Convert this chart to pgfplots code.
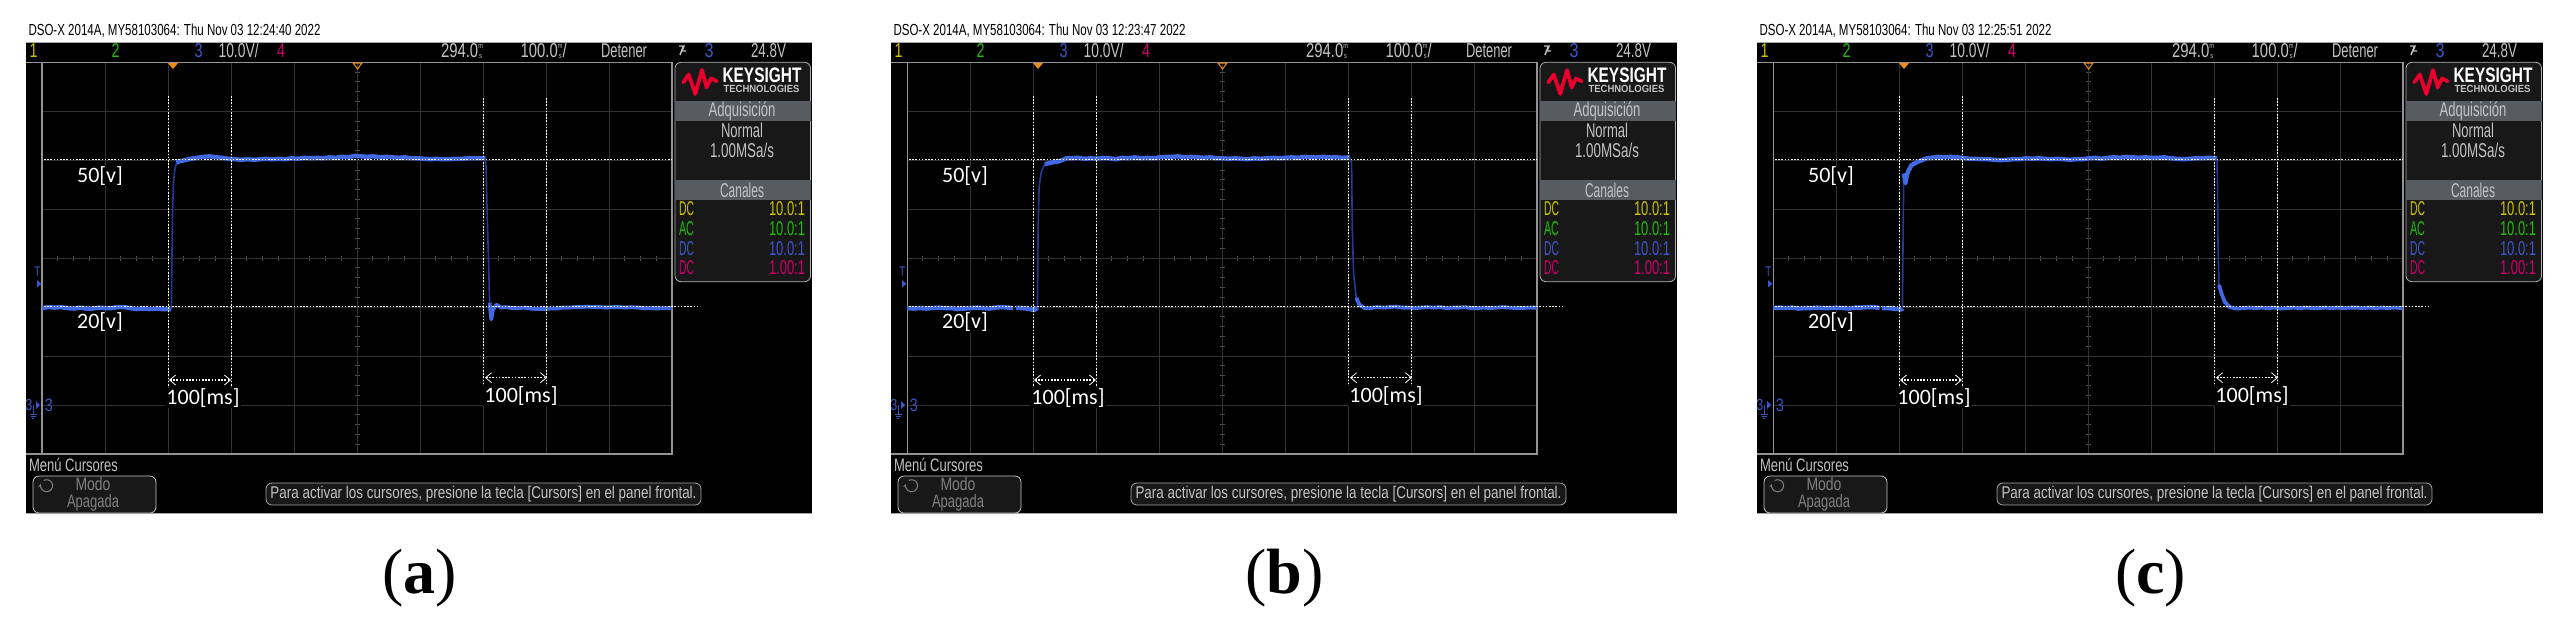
\documentclass[border=0pt]{standalone}
\usepackage{graphicx}
\usepackage{fontspec}
\setmainfont{Liberation Sans}
\newfontfamily\calf{Carlito}
\newfontfamily\capf{Liberation Serif}
\usepackage{pgfplots}
\usepackage{pgfplotstable}
\pgfplotsset{compat=1.18}
\usetikzlibrary{arrows.meta}
\definecolor{tr}{RGB}{66,105,226}
\definecolor{trd}{RGB}{36,58,150}
\definecolor{gr}{RGB}{50,50,50}
\definecolor{cy}{RGB}{205,195,0}
\definecolor{cg}{RGB}{35,185,15}
\definecolor{cb}{RGB}{62,85,200}
\definecolor{cm}{RGB}{205,0,110}
\definecolor{tx}{RGB}{195,195,195}
\definecolor{pan}{RGB}{24,24,24}
\definecolor{band}{RGB}{88,92,96}
\definecolor{ky}{RGB}{232,0,45}
\definecolor{org}{RGB}{240,140,20}
\definecolor{grc}{RGB}{78,78,78}

% ---- panel (a) ----
\pgfplotstableread[row sep=\\]{
-206 19.8\\-196 20.0\\-186 19.9\\-176 20.0\\-166 19.8\\-156 19.7\\-146 19.9\\-136 19.7\\-126 19.7\\-116 19.9\\-106 19.8\\-96 19.8\\-86 20.0\\-76 20.0\\-66 19.8\\-56 19.6\\-46 19.7\\-36 19.6\\-26 19.7\\-16 19.6\\-6 19.6\\-1 19.6\\
}\tAlow
\pgfplotstableread[row sep=\\]{
-1 19.7\\0.8 38.5\\2.4 45.4\\4.5 48.0\\7.2 49.5\\
}\tArise
\pgfplotstableread[row sep=\\]{
7.2 49.5\\12 49.8\\20 50.0\\30 50.3\\40 50.5\\50 50.7\\60 50.8\\70 50.6\\80 50.5\\90 50.3\\100 50.2\\110 50.1\\120 50.2\\130 50.1\\140 50.2\\150 50.3\\160 50.2\\170 50.3\\180 50.2\\190 50.4\\200 50.3\\210 50.5\\220 50.4\\230 50.5\\240 50.4\\250 50.6\\260 50.5\\270 50.7\\280 50.6\\290 50.9\\300 50.8\\310 50.7\\320 50.8\\330 50.6\\340 50.7\\350 50.6\\360 50.5\\370 50.6\\380 50.4\\390 50.4\\400 50.3\\410 50.2\\420 50.3\\430 50.2\\440 50.2\\450 50.3\\460 50.3\\470 50.4\\480 50.4\\490 50.4\\498 50.4\\
}\tAhigh
\pgfplotstableread[row sep=\\]{
498 50.4\\499 48.0\\500.6 38.5\\502.8 29.0\\504.4 20.9\\
}\tAfall
\pgfplotstableread[row sep=\\]{
504.4 20.9\\507 17.5\\509.6 19.4\\515 20.5\\523 19.9\\530 20.0\\540 19.8\\550 19.8\\560 19.9\\570 19.7\\580 19.6\\590 19.6\\600 19.7\\610 19.7\\620 19.9\\630 19.9\\640 20.0\\650 20.0\\660 20.1\\670 20.0\\680 20.0\\690 19.9\\700 20.0\\710 20.0\\720 19.9\\730 20.0\\740 19.9\\750 19.8\\760 19.8\\770 19.7\\780 19.8\\794 19.8\\
}\tAlowb

% ---- panel (b) ----
\pgfplotstableread[row sep=\\]{
-206 19.8\\-196 19.7\\-186 19.8\\-176 19.7\\-166 19.8\\-156 19.9\\-146 19.8\\-136 19.8\\-126 19.6\\-116 19.7\\-106 19.8\\-96 19.9\\-86 19.8\\-76 19.7\\-66 19.9\\-56 20.0\\-46 19.9\\-38 19.8\\-36 nan\\-33 19.9\\-26 19.8\\-16 19.7\\-8 19.5\\-4 19.4\\0.8 19.9\\
}\tBlow
\pgfplotstableread[row sep=\\]{
0.8 19.9\\1.8 35.8\\3.4 44.6\\7.1 47.7\\12.4 49.2\\
}\tBrise
\pgfplotstableread[row sep=\\]{
12.4 49.2\\25.6 49.6\\33 49.7\\41.5 50.1\\46.8 50.4\\55 50.4\\65 50.5\\75 50.3\\85 50.4\\95 50.3\\105 50.5\\115 50.4\\125 50.2\\135 50.5\\145 50.4\\155 50.6\\165 50.4\\175 50.5\\185 50.4\\195 50.6\\205 50.7\\215 50.7\\225 50.8\\235 50.6\\245 50.7\\255 50.6\\265 50.5\\275 50.6\\285 50.4\\295 50.4\\305 50.3\\315 50.4\\325 50.3\\335 50.2\\345 50.4\\355 50.3\\365 50.4\\375 50.5\\385 50.4\\395 50.5\\405 50.6\\415 50.5\\425 50.7\\435 50.6\\445 50.6\\455 50.7\\465 50.6\\475 50.6\\485 50.5\\496.5 50.6\\
}\tBhigh
\pgfplotstableread[row sep=\\]{
496.5 50.6\\499.6 49.4\\500.7 35.8\\502.8 26.9\\507 21.9\\
}\tBfall
\pgfplotstableread[row sep=\\]{
507 21.9\\512 20.5\\520 19.8\\530 19.8\\540 20.0\\550 19.9\\560 20.0\\570 20.1\\580 19.9\\590 19.9\\600 19.8\\610 19.9\\620 20.0\\630 19.9\\640 20.0\\650 19.8\\660 19.9\\670 19.9\\680 20.0\\690 19.8\\700 19.8\\710 19.9\\720 19.8\\730 19.9\\740 20.0\\750 19.9\\760 19.8\\770 19.8\\780 19.9\\794 19.9\\
}\tBlowb

% ---- panel (c) ----
\pgfplotstableread[row sep=\\]{
-206 19.8\\-196 19.9\\-186 19.8\\-176 19.9\\-166 19.7\\-156 19.8\\-146 19.8\\-136 19.9\\-126 19.8\\-116 19.8\\-106 19.9\\-96 19.8\\-86 19.7\\-76 19.9\\-66 19.9\\-56 20.0\\-46 20.0\\-37 19.8\\-35 nan\\-33 19.8\\-26 19.8\\-16 19.7\\-8 19.6\\-2 19.5\\-0.8 19.7\\
}\tClow
\pgfplotstableread[row sep=\\]{
-0.8 19.7\\0.3 35.8\\1.3 47.3\\
}\tCrise
\pgfplotstableread[row sep=\\]{
1.3 47.3\\2.5 46.6\\4 45.3\\6 46.8\\8.2 47.7\\13.5 49.0\\24 49.7\\37.3 50.4\\45 50.5\\55 50.7\\65 50.6\\75 50.7\\85 50.6\\95 50.5\\105 50.3\\115 50.3\\125 50.2\\135 50.2\\145 50.1\\155 50.0\\165 50.1\\175 50.2\\185 50.2\\195 50.4\\205 50.3\\215 50.4\\225 50.3\\235 50.2\\245 50.3\\255 50.2\\265 50.1\\275 50.2\\285 50.2\\295 50.4\\305 50.5\\315 50.3\\325 50.5\\335 50.6\\345 50.5\\355 50.7\\365 50.6\\375 50.5\\385 50.6\\395 50.5\\405 50.5\\415 50.6\\425 50.4\\435 50.3\\445 50.2\\455 50.3\\465 50.4\\475 50.4\\485 50.5\\498.6 50.4\\
}\tChigh
\pgfplotstableread[row sep=\\]{
498.6 50.4\\499.5 45\\500.2 33\\501.8 24.5\\
}\tCfall
\pgfplotstableread[row sep=\\]{
501.8 24.5\\505.5 22.9\\510.8 21.1\\518.7 20.0\\529 19.7\\540 19.8\\550 19.9\\560 19.8\\570 19.9\\580 19.8\\590 19.9\\600 19.7\\610 19.8\\620 19.9\\630 19.8\\640 19.9\\650 19.8\\660 19.8\\670 19.9\\680 19.8\\690 19.9\\700 19.8\\710 19.9\\720 19.9\\730 19.8\\740 19.9\\750 19.8\\760 19.9\\770 19.8\\780 19.9\\794 19.8\\
}\tClowb

% text fitted to a width given in pt, font size in pt
\newcommand{\fit}[3]{\resizebox{#1pt}{\height}{\fontsize{#2}{#2}\selectfont #3}}
\newcommand{\stk}{\raisebox{-.05em}{\shortstack[c]{\fontsize{3.8}{3.6}\selectfont m\\\fontsize{3.8}{3.6}\selectfont s}}}
\tikzset{t/.style={inner sep=0pt,outer sep=0pt,text=tx}}

\newcommand{\panel}[8]{%
 % #1 offset in px, #2 clock, #3 caption letter, #4..#8 tables
 \begin{scope}[x=0.5pt,y=-0.5pt,shift={(#1*0.5pt,0pt)}]
  \fill[black] (26,42.5) rectangle (812,513);
  \draw[gray!70,line width=.5pt] (26,42.5)--(812,42.5);
  \draw[gray!70,line width=.5pt] (26,513)--(812,513);
  \node[t,text=black,anchor=west] at (28.5,31) {\fit{146}{8}{DSO-X 2014A, MY58103064: Thu Nov 03 #2 2022}};
 \end{scope}
 % centre graticule with its divisions
 \begin{axis}[at={(#1*0.5pt+21.1pt,-227pt)},anchor=south west,scale only axis,
   width=314.9pt,height=195.85pt,xmin=-500,xmax=500,ymin=-40,ymax=40,
   axis lines=center,axis line style={color=grc,line width=.5pt,-},
   xtick={-500,-475,...,500},ytick={-40,-38,...,40},
   xticklabels={},yticklabels={},tick align=center,
   major tick length=2.6pt,tick style={color=grc,line width=.5pt}]
 \end{axis}
 % the trace, in volts against milliseconds
 \begin{axis}[at={(#1*0.5pt+21.1pt,-227pt)},anchor=south west,scale only axis,
   width=314.9pt,height=195.85pt,xmin=-206,xmax=794,ymin=-10,ymax=70,
   axis line style={color=gray!85,line width=.7pt},
   xtick={-206,-106,...,794},ytick={-10,0,...,70},
   xticklabels={},yticklabels={},major tick length=0pt,
   grid=major,grid style={color=gr,line width=.5pt},
   unbounded coords=jump,clip=false]
  \addplot[tr,line width=2.2pt,line join=round] table[x index=0,y index=1] {#4};
  \addplot[trd,line width=.8pt] table[x index=0,y index=1] {#5};
  \addplot[tr,line width=2.2pt,line join=round] table[x index=0,y index=1] {#6};
  \addplot[trd,line width=.8pt] table[x index=0,y index=1] {#7};
  \addplot[tr,line width=1.9pt,line join=round] table[x index=0,y index=1] {#8};
 \end{axis}
 \begin{scope}[x=0.5pt,y=-0.5pt,shift={(#1*0.5pt,0pt)}]
  % left side of frame extends to the edge of the screen
  \draw[gray!85,line width=.7pt] (26,62.3)--(42,62.3) (26,454)--(42,454);
  % header
  \node[t,text=cy] at (33.5,50.7) {\fit{4}{10}{1}};
  \node[t,text=cg] at (115.7,50.7) {\fit{4}{10}{2}};
  \node[t,text=cb] at (198.6,50.7) {\fit{4}{10}{3}};
  \node[t] at (238.6,50.7) {\fit{20}{10}{10.0V/}};
  \node[t,text=cm] at (281,50.7) {\fit{4}{10}{4}};
  \node[t] at (462,50.7) {\fit{21}{10}{294.0\stk}};
  \node[t] at (543.7,50.7) {\fit{23}{10}{100.0\stk/}};
  \node[t] at (624,50.7) {\fit{23}{10}{Detener}};
  \draw[tx,line width=.7pt] (679,46)--(684,46)--(682,51)--(686,51) (683,47)--(680,55);
  \node[t,text=cb] at (709,50.7) {\fit{4.5}{10}{3}};
  \node[t] at (768.5,50.7) {\fit{17.5}{10}{24.8V}};
  % trigger and time markers
  \fill[org] (168,63)--(178,63)--(173,69)--cycle;
  \draw[org,line width=.5pt] (353,63)--(362,63)--(357.6,69)--cycle;
  % side panel
  \fill[pan,rounded corners=3pt] (675,62.3) rectangle (810.5,281.7);
  \draw[gray!60,line width=.4pt,rounded corners=3pt] (675,62.3) rectangle (810.5,281.7);
  \fill[band] (675,101) rectangle (810.5,121);
  \fill[band] (675,180) rectangle (810.5,199.5);
  \draw[ky,line width=1.9pt,line join=round,line cap=round]
    (683.3,82.3)--(688.7,74.5)--(695.3,94)--(702,70)--(706.7,87.5)--(711,78.5)--(716.7,81.3);
  \node[t,text=white,anchor=west] at (722.5,75.5) {\fit{39.5}{10.5}{\bfseries KEYSIGHT}};
  \node[t,anchor=west] at (723.5,89) {\fit{38}{5.2}{\bfseries TECHNOLOGIES}};
  \node[t] at (742,111) {\fit{33.5}{10}{Adquisición}};
  \node[t] at (742,130.7) {\fit{21}{10}{Normal}};
  \node[t] at (742,150) {\fit{32}{10}{1.00MSa/s}};
  \node[t] at (742,190) {\fit{22}{10}{Canales}};
  \node[t,text=cy,anchor=west] at (679,209) {\fit{7.5}{10}{DC}};
  \node[t,text=cg,anchor=west] at (679,228.3) {\fit{7.5}{10}{AC}};
  \node[t,text=cb,anchor=west] at (679,248.3) {\fit{7.5}{10}{DC}};
  \node[t,text=cm,anchor=west] at (679,267.7) {\fit{7.5}{10}{DC}};
  \node[t,text=cy,anchor=east] at (805,209) {\fit{18}{10}{10.0:1}};
  \node[t,text=cg,anchor=east] at (805,228.3) {\fit{18}{10}{10.0:1}};
  \node[t,text=cb,anchor=east] at (805,248.3) {\fit{18}{10}{10.0:1}};
  \node[t,text=cm,anchor=east] at (805,267.7) {\fit{18}{10}{1.00:1}};
  % left markers
  \node[t,text=cb] at (37.3,271.7) {\fit{3}{7}{T}};
  \fill[cb] (37,280)--(41.5,283.8)--(37,287.5)--cycle;
  \node[t,text=cb] at (28.8,405) {\fit{3.5}{8}{3}};
  \draw[cb,line width=.5pt] (33,405)--(33,414) (29.5,414)--(36.5,414) (30.5,416)--(35.5,416) (32,418)--(34,418);
  \fill[cb] (36,401)--(40,405)--(36,409)--cycle;
  \node[t,text=cb] at (48.8,405) {\fit{4}{9}{3}};
  % bottom
  \node[t,anchor=west] at (29,464.5) {\fit{44.5}{9}{Menú Cursores}};
  \draw[gray!45,fill=pan,line width=.4pt,rounded corners=3pt] (33,476) rectangle (156,513);
  \draw[gray,line width=.5pt,-{Stealth[length=2pt]}] (43.6,480.5) arc[start angle=-120,end angle=200,radius=6];
  \node[t,text=gray] at (93,484.5) {\fit{17.5}{9}{Modo}};
  \node[t,text=gray] at (93,503) {\fit{26}{9}{Apagada}};
  \draw[gray!70,fill=pan,line width=.4pt,rounded corners=3pt] (266,483) rectangle (701,505);
  \node[t] at (483.5,494) {\fit{213}{8.5}{Para activar los cursores, presione la tecla [Cursors] en el panel frontal.}};
  % dotted annotations
  \tikzset{dt/.style={white,line width=.55pt,dash pattern=on .8pt off .8pt}}
  \draw[dt] (44,159.5)--(672,159.5);
  \draw[dt] (44,306.5)--(700,306.5);
  \draw[dt] (168.4,96)--(168.4,386) (231.5,96)--(231.5,386);
  \draw[dt] (483.8,98)--(483.8,383) (546.8,98)--(546.8,383);
  \draw[dt,{Straight Barb[length=3pt,width=5pt,line width=.4pt]}-{Straight Barb[length=3pt,width=5pt,line width=.4pt]}] (169,380)--(231,380);
  \draw[dt,{Straight Barb[length=3pt,width=5pt,line width=.4pt]}-{Straight Barb[length=3pt,width=5pt,line width=.4pt]}] (485,377.7)--(547,377.7);
  \node[fill=black,inner sep=.5pt,text=white] at (100,176) {\calf\fontsize{11}{11}\selectfont 50[v]};
  \node[fill=black,inner sep=.5pt,text=white] at (100,322.5) {\calf\fontsize{11}{11}\selectfont 20[v]};
  \node[fill=black,inner sep=.5pt,text=white] at (203,398) {\calf\fontsize{11}{11}\selectfont 100[ms]};
  \node[fill=black,inner sep=.5pt,text=white] at (521,396) {\calf\fontsize{11}{11}\selectfont 100[ms]};
  % caption
  \node[inner sep=0pt,text=black] at (419.5,578) {\capf\fontsize{32}{32}\selectfont (\textbf{#3})};
 \end{scope}
}

\begin{document}
\begin{tikzpicture}
 \fill[white] (0pt,0pt) rectangle (1283.5pt,-314pt);
 \panel{0}{12:24:40}{a}{\tAlow}{\tArise}{\tAhigh}{\tAfall}{\tAlowb}
 \panel{865}{12:23:47}{b}{\tBlow}{\tBrise}{\tBhigh}{\tBfall}{\tBlowb}
 \panel{1731}{12:25:51}{c}{\tClow}{\tCrise}{\tChigh}{\tCfall}{\tClowb}
 \path[use as bounding box] (0pt,0pt) rectangle (1283.5pt,-314pt);
\end{tikzpicture}
\end{document}
